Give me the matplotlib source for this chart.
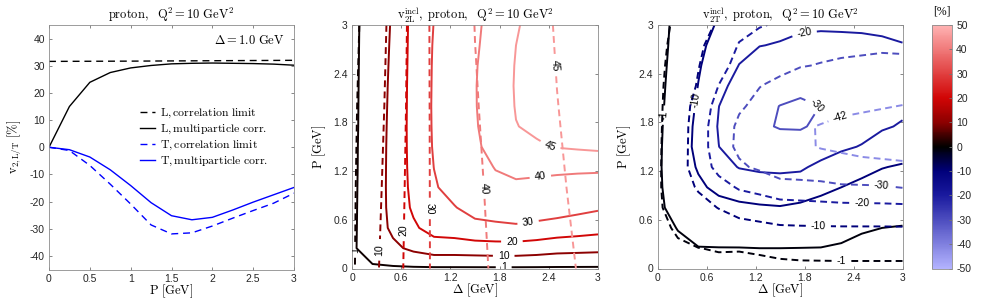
import numpy as np
import matplotlib
matplotlib.use("Agg")
import matplotlib.pyplot as plt
from matplotlib.colors import LinearSegmentedColormap, Normalize
from matplotlib.cm import ScalarMappable

plt.rcParams['font.family'] = ['Liberation Sans', 'DejaVu Sans']
plt.rcParams['mathtext.fontset'] = 'cm'
plt.rcParams['axes.unicode_minus'] = False
plt.rcParams['lines.dashed_pattern'] = [3.5, 2.2]

# ---------------- data ----------------
delta = [0.0, 0.25, 0.5, 0.75, 1.0, 1.25, 1.5, 1.75, 2.0, 2.25, 2.5, 2.75, 3.0]   # GeV
p_vals = [0.0, 0.25, 0.5, 0.75, 1.0, 1.25, 1.5, 1.75, 2.0, 2.25, 2.5, 2.75, 3.0]  # GeV
p_corr = [0.0, 1.0, 2.0, 3.0]                                                      # GeV (correlation limit grid)

# v2L, multiparticle correlations [%] (rows: P, columns: Delta)
v2L_multi = [
    [0, 0.0, 0.0, 0.0, 0.0, 0.0, 0.0, 0.0, 0.0, 0.0, 0.0, 0.0, 0.0],
    [0, 4.5, 8.0, 12.0, 15.0, 15.0, 15.5, 16.0, 16.0, 15.0, 13.5, 13.0, 12.5],
    [0, 4.2, 12.0, 18.5, 23.9, 25.0, 27.5, 28.0, 28.5, 27.5, 26.0, 24.8, 23.5],
    [0, 4.0, 13.0, 21.5, 27.5, 29.6, 33.0, 34.5, 36.0, 35.0, 34.3, 32.7, 31.2],
    [0, 3.8, 13.3, 22.5, 29.2, 33.0, 35.5, 38.4, 39.0, 38.5, 38.0, 37.5, 37.0],
    [0, 3.6, 13.3, 23.0, 30.1, 34.5, 37.5, 40.3, 41.5, 41.5, 41.3, 41.2, 41.2],
    [0, 3.5, 13.2, 23.3, 30.7, 35.2, 39.3, 41.5, 43.5, 44.6, 45.2, 45.6, 46.0],
    [0, 3.3, 13.0, 23.5, 30.9, 35.5, 39.6, 42.2, 44.9, 45.6, 46.6, 47.1, 47.5],
    [0, 3.2, 12.7, 23.5, 31.0, 35.6, 39.75, 42.6, 45.2, 46.2, 47.2, 47.8, 48.3],
    [0, 3.1, 12.4, 23.5, 30.9, 35.6, 39.76, 42.8, 45.3, 46.4, 47.5, 48.1, 48.7],
    [0, 3.0, 12.0, 23.4, 30.8, 35.5, 39.6, 42.8, 45.2, 46.4, 47.5, 48.2, 48.8],
    [0, 2.9, 11.6, 23.3, 30.6, 35.3, 39.2, 42.7, 45.0, 46.2, 47.4, 48.1, 48.8],
    [0, 2.8, 11.2, 23.2, 30.2, 35.0, 38.8, 42.5, 44.8, 45.8, 47.2, 48.0, 48.7],
]

# v2L, correlation limit [%] (rows: p_corr, columns: Delta)
v2L_corr = [
    [0, 7.0, 16.5, 23.5, 31.6, 35.0, 38.5, 40.8, 42.3, 43.5, 44.4, 45.05, 46.0],
    [0, 5.5, 15.5, 23.4, 31.7, 35.5, 39.0, 41.3, 42.7, 43.8, 44.7, 45.35, 46.2],
    [0, 4.0, 14.4, 23.2, 31.85, 36.0, 39.6, 41.8, 43.0, 44.0, 44.95, 45.65, 46.35],
    [0, 2.8, 13.4, 23.1, 32.0, 36.5, 40.1, 42.2, 43.3, 44.2, 45.2, 45.9, 46.5],
]

# v2T, multiparticle correlations [%] (rows: P, columns: Delta)
v2T_multi = [
    [0, 0.0, 0.0, 0.0, 0.0, 0.0, 0.0, 0.0, 0.0, 0.0, 0.0, 0.0, 0.0],
    [0, -0.4, -0.85, -0.9, -0.9, -1.0, -1.0, -0.95, -0.9, -0.6, -0.5, -0.45, -0.4],
    [0, -1.1, -2.8, -3.2, -3.6, -4.0, -4.2, -3.9, -3.5, -2.2, -1.2, -1.0, -0.85],
    [0, -2.8, -6.0, -7.2, -8.3, -9.0, -9.5, -8.2, -7.2, -6.2, -4.0, -3.0, -2.2],
    [0, -4.2, -8.5, -12.0, -14.1, -15.5, -16.0, -15.5, -12.0, -10.0, -8.0, -6.5, -5.0],
    [0, -5.0, -10.8, -16.5, -20.4, -21.5, -21.8, -21.3, -17.8, -15.0, -12.5, -10.3, -9.2],
    [0, -4.6, -12.6, -19.9, -25.2, -27.0, -28.0, -28.0, -24.5, -21.5, -19.5, -16.0, -14.0],
    [0, -3.9, -12.4, -20.6, -26.7, -29.3, -30.3, -30.4, -29.15, -26.0, -23.5, -21.0, -19.2],
    [0, -3.1, -11.4, -19.9, -25.8, -29.2, -30.05, -30.8, -29.95, -27.5, -24.8, -23.2, -21.8],
    [0, -2.6, -10.2, -17.5, -23.1, -27.5, -28.8, -28.8, -28.5, -27.0, -24.6, -23.5, -22.4],
    [0, -2.2, -9.2, -14.8, -20.2, -23.5, -25.5, -25.5, -25.5, -25.0, -23.5, -22.8, -22.0],
    [0, -1.9, -8.4, -12.5, -17.5, -19.8, -20.5, -21.8, -22.3, -22.3, -21.8, -21.2, -20.3],
    [0, -1.7, -7.7, -10.6, -14.8, -17.2, -18.0, -18.8, -19.0, -18.8, -18.8, -18.5, -18.0],
]

# v2T, correlation limit [%] (rows: P, columns: Delta)
v2T_corr = [
    [0, 0.0, 0.0, 0.0, 0.0, 0.0, 0.0, 0.0, 0.0, 0.0, 0.0, 0.0, 0.0],
    [0, -0.5, -0.95, -1.25, -1.2, -1.5, -2.1, -2.5, -2.6, -2.7, -2.7, -2.7, -2.7],
    [0, -1.5, -3.2, -5.0, -6.7, -8.0, -9.0, -9.2, -9.3, -9.4, -9.4, -9.4, -9.5],
    [0, -4.0, -7.0, -10.3, -13.6, -14.5, -16.0, -16.5, -17.0, -17.3, -17.5, -17.6, -17.8],
    [0, -5.5, -10.9, -16.5, -20.9, -23.0, -26.0, -26.5, -27.0, -28.5, -28.7, -29.0, -30.3],
    [0, -5.6, -14.8, -22.7, -28.6, -31.5, -35.5, -36.0, -37.0, -38.5, -39.5, -40.0, -40.5],
    [0, -5.2, -15.0, -25.4, -31.9, -35.5, -39.5, -40.5, -42.5, -43.5, -44.5, -45.0, -45.5],
    [0, -4.6, -15.2, -25.2, -31.5, -35.5, -40.0, -41.5, -42.2, -43.4, -44.5, -45.2, -45.5],
    [0, -4.0, -14.0, -23.5, -29.0, -32.0, -37.5, -40.0, -40.5, -40.5, -40.8, -41.5, -42.2],
    [0, -3.4, -10.9, -20.2, -26.1, -29.8, -32.0, -35.5, -36.0, -37.0, -37.5, -38.0, -38.5],
    [0, -2.7, -9.6, -16.5, -23.3, -26.5, -27.8, -29.5, -30.5, -31.5, -32.0, -32.5, -32.0],
    [0, -2.1, -8.7, -13.2, -20.6, -23.3, -24.5, -26.0, -27.0, -27.5, -28.0, -28.5, -28.5],
    [0, -1.6, -7.9, -10.7, -16.9, -19.5, -20.8, -22.0, -23.5, -24.0, -24.5, -25.0, -25.5],
]

delta_slice = 1.0  # GeV, left panel
levels_L = [1, 10, 20, 30, 40, 45]
levels_T_multi = [-30, -20, -10, -1]
levels_T_corr = [-42, -30, -20, -10, -1]
cbar_ticks = [-50, -40, -30, -20, -10, 0, 10, 20, 30, 40, 50]

# ---------------- style ----------------
cmap_nodes = [0.0, 0.3, 0.4, 0.5, 0.6, 0.7, 1.0]
cmap_colors = [(0.70, 0.70, 1.0), (0.10, 0.10, 0.62), (0.0, 0.0, 0.48), (0.0, 0.0, 0.0),
               (0.55, 0.0, 0.0), (0.82, 0.02, 0.02), (1.0, 0.70, 0.70)]
cmap = LinearSegmentedColormap.from_list('v2', list(zip(cmap_nodes, cmap_colors)))
norm = Normalize(-50, 50)

LM = np.array(v2L_multi); LC = np.array(v2L_corr)
TM = np.array(v2T_multi); TC = np.array(v2T_corr)

W, H = 981, 307
fig = plt.figure(figsize=(W / 100, H / 100), dpi=100)
ax1 = fig.add_axes([49 / W, 37.5 / H, 245 / W, 244.5 / H])
ax2 = fig.add_axes([352 / W, 38.5 / H, 246 / W, 243.5 / H])
ax3 = fig.add_axes([657.5 / W, 38.5 / H, 245 / W, 243.5 / H])
cax = fig.add_axes([932 / W, 38.5 / H, 20 / W, 243.5 / H])

TICK_FS = 7.5
LBL_FS = 9


def style(ax):
    for s in ax.spines.values():
        s.set_color('0.55')
        s.set_linewidth(0.6)
    ax.tick_params(direction='in', length=2.5, width=0.6, color='0.45', top=True, right=True,
                   labelsize=TICK_FS, labelcolor='0.15', pad=3)


# ---- panel 1 ----
i1 = delta.index(delta_slice)
ax1.plot(p_corr, LC[:, i1], color='k', lw=1.0, dashes=(5, 3.5), label=r'$\mathrm{L,correlation\ limit}$')
ax1.plot(p_vals, LM[:, i1], color='k', lw=1.0, label=r'$\mathrm{L,multiparticle\ corr.}$')
ax1.plot(p_vals, TC[:, i1], color=(0, 0, 1), lw=1.0, dashes=(5, 3.5), label=r'$\mathrm{T,correlation\ limit}$')
ax1.plot(p_vals, TM[:, i1], color=(0, 0, 1), lw=1.0, label=r'$\mathrm{T,multiparticle\ corr.}$')
ax1.set_xlim(0, 3)
ax1.set_ylim(-45, 45)
ax1.set_xticks([0, 0.5, 1, 1.5, 2, 2.5, 3])
ax1.set_xticklabels(['0', '0.5', '1', '1.5', '2', '2.5', '3'])
ax1.set_yticks(range(-40, 41, 10))
style(ax1)
ax1.set_xlabel(r'$\mathrm{P\ [GeV]}$', fontsize=LBL_FS, labelpad=-1)
ax1.set_ylabel(r'$\mathrm{v_{2,L/T}\ [\%]}$', fontsize=LBL_FS, labelpad=4)
ax1.set_title(r'$\mathrm{proton,\ \ Q^2 = 10\ GeV^2}$', fontsize=LBL_FS, pad=4)
ax1.text(0.96, 0.935, r'$\Delta = 1.0\ \mathrm{GeV}$', transform=ax1.transAxes, ha='right', va='center',
         fontsize=LBL_FS)
ax1.legend(loc='upper left', bbox_to_anchor=(0.37, 0.665), frameon=False, fontsize=8.5,
           handlelength=1.3, handletextpad=0.45, labelspacing=0.22, borderpad=0, borderaxespad=0)

# ---- panel 2 ----
cs_s = ax2.contour(delta, p_vals, LM, levels=levels_L, cmap=cmap, norm=norm, linewidths=1.4,
                   linestyles='solid')
cs_d = ax2.contour(delta, p_corr, LC, levels=levels_L, cmap=cmap, norm=norm, linewidths=1.4,
                   linestyles='dashed')
ax2.clabel(cs_s, fmt='%d', fontsize=TICK_FS, colors='k', inline=True,
           manual=[(1.85, 0.03), (1.85, 0.15), (1.95, 0.33), (2.15, 0.55), (2.3, 1.1), (2.4, 1.48)])
ax2.clabel(cs_d, fmt='%d', fontsize=TICK_FS, colors='k', inline=True,
           manual=[(0.03, 0.23), (0.33, 0.23), (0.61, 0.47), (0.95, 0.74), (1.6, 0.99), (2.48, 2.5)])

# ---- panel 3 ----
ct_s = ax3.contour(delta, p_vals, TM, levels=levels_T_multi, cmap=cmap, norm=norm, linewidths=1.4,
                   linestyles='solid')
ct_d = ax3.contour(delta, p_vals, TC, levels=levels_T_corr, cmap=cmap, norm=norm, linewidths=1.4,
                   linestyles='dashed')
ax3.clabel(ct_s, fmt='%d', fontsize=TICK_FS, colors='k', inline=True,
           manual=[(0.07, 1.89), (0.46, 2.07), (1.8, 2.88), (1.95, 2.01)])
ax3.clabel(ct_d, fmt='%d', fontsize=TICK_FS, colors='k', inline=True,
           manual=[(2.25, 0.09), (1.97, 0.54), (2.5, 0.75), (2.74, 0.97), (2.25, 1.83)])

grid_ticks = [0, 0.6, 1.2, 1.8, 2.4, 3]
grid_labels = ['0', '0.6', '1.2', '1.8', '2.4', '3']
for ax, ttl in [(ax2, r'$\mathrm{v_{2L}^{incl},\ proton,\ \ Q^2 = 10\ GeV^2}$'),
                (ax3, r'$\mathrm{v_{2T}^{incl},\ proton,\ \ Q^2 = 10\ GeV^2}$')]:
    ax.set_xlim(0, 3)
    ax.set_ylim(0, 3)
    ax.set_xticks(grid_ticks)
    ax.set_xticklabels(grid_labels)
    ax.set_yticks(grid_ticks)
    ax.set_yticklabels(grid_labels)
    style(ax)
    ax.set_xlabel(r'$\Delta\ \mathrm{[GeV]}$', fontsize=LBL_FS, labelpad=-1)
    ax.set_ylabel(r'$\mathrm{P\ [GeV]}$', fontsize=LBL_FS, labelpad=4)
    ax.set_title(ttl, fontsize=LBL_FS, pad=4)

# ---- colorbar ----
cb = fig.colorbar(ScalarMappable(norm=norm, cmap=cmap), cax=cax, ticks=cbar_ticks)
cb.outline.set_edgecolor('0.55')
cb.outline.set_linewidth(0.6)
cax.tick_params(direction='in', length=2.5, width=0.6, color='0.45', labelsize=TICK_FS,
                labelcolor='0.15', pad=3)
cax.set_yticklabels([str(t) for t in cbar_ticks])
cax.text(0.5, 1.03, '[%]', transform=cax.transAxes, ha='center', va='bottom', fontsize=8.5,
         family='Liberation Serif')

fig.savefig('out.png', dpi=100)
